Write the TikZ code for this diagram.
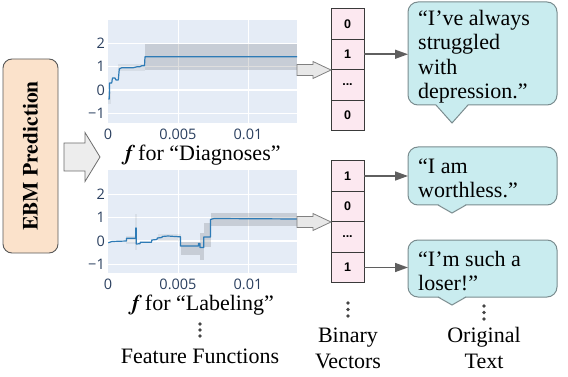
\documentclass[tikz,border=0pt]{standalone}
\usepackage{fontspec}
\setmainfont{Liberation Serif}
\newfontfamily\serifbold{texgyretermes-bold.otf}
\newfontfamily\serifbolditalic{texgyretermes-bolditalic.otf}
\newfontfamily\ticksf{Open Sans}
\newfontfamily\cellsf{Liberation Sans}
\usetikzlibrary{arrows.meta}
\definecolor{plotbg}{HTML}{E5ECF6}
\definecolor{tickc}{HTML}{2A3F5F}
\definecolor{curvec}{HTML}{2E7BB6}
\definecolor{ebmfill}{HTML}{FBE2CB}
\definecolor{ebmdraw}{HTML}{595959}
\definecolor{bubfill}{HTML}{C9ECEF}
\definecolor{bubdraw}{HTML}{7A8C8F}
\definecolor{vecfill}{HTML}{FCE8F0}
\definecolor{vecdraw}{HTML}{3A3A3A}
\definecolor{harrfill}{HTML}{E8E8E8}
\definecolor{harrdraw}{HTML}{808080}
\definecolor{darrc}{HTML}{5F5F5F}
\definecolor{dotc}{HTML}{444444}
\begin{document}
\begin{tikzpicture}[x=1pt,y=-1pt,
  gridl/.style={white, line width=0.9pt},
  zline/.style={white, line width=1.8pt},
  band/.style={fill=black, fill opacity=0.13},
  fband/.style={fill=black, fill opacity=0.06},
  curve/.style={draw=curvec, line width=1.2pt, line join=round},
  tick/.style={font=\ticksf\fontsize{14.5}{16}\selectfont, text=tickc, inner sep=0pt},
  lbl/.style={font=\fontsize{22}{26.5}\selectfont, inner sep=0pt, align=center},
  bubtext/.style={font=\fontsize{22}{24.5}\selectfont, inner sep=0pt, align=left, anchor=north west},
  bubblebox/.style={rectangle, inner sep=0pt, outer sep=0pt, anchor=north west, minimum width=149},
  bubble/.style={draw=bubdraw, fill=bubfill, line width=1pt, rounded corners=10pt},
  vcell/.style={rectangle, draw=vecdraw, fill=vecfill, line width=0.8pt, minimum width=33, minimum height=30.5, inner sep=0pt, outer sep=0pt, font=\cellsf\bfseries\fontsize{12.5}{14}\selectfont},
  hollow/.style={draw=harrdraw, fill=harrfill, line width=0.8pt, line join=miter},
  darr/.style={draw=darrc, line width=1.5pt, -{Triangle[length=13pt,width=9pt]}},
  vdot/.style={fill=dotc}]
\path[use as bounding box] (0,0) rectangle (568,377);

% EBM box
\node[rectangle, rounded corners=9pt, draw=ebmdraw, fill=ebmfill, line width=0.9pt, rotate=90,
  minimum width=194, minimum height=55, inner sep=0pt,
  font=\serifbold\fontsize{21.5}{24}\selectfont] (ebm) at (30.5,156) {EBM Prediction};

% big arrow from the EBM box to the feature functions
\coordinate (bigtail) at (64,157);
\draw[hollow, shift={(bigtail)}, fill=harrfill!80!white, draw=harrdraw!85!black]
  (0,-14) -- (21,-14) -- (21,-24.5) -- (36,0) -- (21,24.5) -- (21,14) -- (0,14) -- cycle;

% ---------- top plot ----------
\fill[plotbg] (108,20) rectangle (297,123);
\draw[gridl] (108,43) -- (297,43);
\draw[gridl] (108,66.5) -- (297,66.5);
\draw[gridl] (108,113.5) -- (297,113.5);
\draw[gridl] (178,20) -- (178,123);
\draw[gridl] (248,20) -- (248,123);
\draw[zline] (108,90) -- (297,90);
\fill[band] (145,44) rectangle (297,70);
\fill[fband] (118,64) rectangle (145,71);
\fill[fband] (108,92) rectangle (111,104);
\draw[curve] (108.3,99) -- (109.3,99) -- (109.6,83) -- (111.7,83) -- (112.5,78) -- (115,78) -- (116,80) -- (118.3,80)
  -- (119.3,69) -- (121.7,67.7) -- (133.3,67.7) -- (137.3,66.7) -- (140,66.7) -- (141.7,65.7) -- (144.5,65.7)
  -- (145,56.7) -- (297,56.7);
\node[tick, anchor=east] (ty2) at (105,43) {2};
\node[tick, anchor=east] (ty1) at (105,66.5) {1};
\node[tick, anchor=east] (ty0) at (105,90) {0};
\node[tick, anchor=east] (tym) at (105,113.5) {−1};
\node[tick] (tx0) at (108,134) {0};
\node[tick] (tx1) at (178,134) {0.005};
\node[tick] (tx2) at (248,134) {0.01};
\node[lbl, anchor=base] (cap1) at (203,160.5) {{\serifbolditalic f} for “Diagnoses”};

% ---------- bottom plot ----------
\fill[plotbg] (108,170) rectangle (297,273);
\draw[gridl] (108,194) -- (297,194);
\draw[gridl] (108,217.5) -- (297,217.5);
\draw[gridl] (108,264.5) -- (297,264.5);
\draw[gridl] (178,170) -- (178,273);
\draw[gridl] (248,170) -- (248,273);
\draw[zline] (108,241) -- (297,241);
\fill[fband] (126,236) rectangle (136,244);
\fill[fband] (135.3,214) rectangle (136.8,250);
\fill[fband] (158,233.5) rectangle (180.5,240.5);
\fill[band] (180.5,241.5) rectangle (199.5,255);
\fill[band] (199.5,233) rectangle (204,260);
\fill[band] (204,223) rectangle (210.7,247);
\fill[band] (210.7,213.3) rectangle (297,225.7);
\draw[curve] (108.3,242.7) -- (112,241.5) -- (126.5,241) -- (126.5,238.3) -- (135.8,238.3) -- (135.8,228)
  -- (136.3,228) -- (136.3,244) -- (140,243.7) -- (140.3,242.3) -- (151.5,242.3) -- (151.8,240) -- (157,239.5)
  -- (157.3,238) -- (162,237.5) -- (162.3,236.5) -- (168,236) -- (175,236.5) -- (180.5,236.8) -- (180.5,246)
  -- (198.5,246) -- (198.5,243.5) -- (200,243.5) -- (200,247.5) -- (203.8,247.5) -- (203.8,237) -- (210.5,237)
  -- (210.5,219.5) -- (214,218.5) -- (297,219);
\node[tick, anchor=east] (by2) at (105,194) {2};
\node[tick, anchor=east] (by1) at (105,217.5) {1};
\node[tick, anchor=east] (by0) at (105,241) {0};
\node[tick, anchor=east] (bym) at (105,264.5) {−1};
\node[tick] (bx0) at (108,284.5) {0};
\node[tick] (bx1) at (178,284.5) {0.005};
\node[tick] (bx2) at (248,284.5) {0.01};
\node[lbl, anchor=base] (cap2) at (203,310) {{\serifbolditalic f} for “Labeling”};
\fill[vdot] (200,324) circle (1.9);
\fill[vdot] (200,330) circle (1.9);
\fill[vdot] (200,336) circle (1.9);
\node[lbl, anchor=base] (ff) at (200,363) {Feature Functions};

% ---------- vectors ----------
\node[vcell] (v1a) at (347.5,23.75) {0};
\node[vcell] (v1b) at (347.5,54.25) {1};
\node[vcell] (v1c) at (347.5,84.75) {...};
\node[vcell] (v1d) at (347.5,115.25) {0};
\node[vcell] (v2a) at (347.5,176) {1};
\node[vcell] (v2b) at (347.5,206.5) {0};
\node[vcell] (v2c) at (347.5,237) {...};
\node[vcell] (v2d) at (347.5,267.5) {1};

% ---------- hollow arrows from plots to vectors ----------
\coordinate (h1tail) at (297,70);
\coordinate (h2tail) at (297,222);
\draw[hollow, shift={(h1tail)}] (0,-5.5) -- (16,-5.5) -- (16,-8.5) -- (34,0) -- (16,8.5) -- (16,5.5) -- (0,5.5) -- cycle;
\draw[hollow, shift={(h2tail)}] (0,-5.5) -- (16,-5.5) -- (16,-8.5) -- (34,0) -- (16,8.5) -- (16,5.5) -- (0,5.5) -- cycle;

\fill[vdot] (348,303) circle (1.9);
\fill[vdot] (348,309.5) circle (1.9);
\fill[vdot] (348,316) circle (1.9);
\node[lbl, anchor=north] (bv) at (348,326) {\rule{0pt}{16pt}Binary\\Vectors};

% ---------- bubbles ----------
\node[bubblebox, minimum height=103] (b1) at (408,2) {};
\draw[bubble] (b1.south west) rectangle (b1.north east);
\fill[bubfill] (436,104) -- (452,123) -- (468,104) -- cycle;
\draw[draw=bubdraw, line width=1pt, line join=miter] (436,105) -- (452,123) -- (468,105);
\node[bubtext] (t1) at (418,9) {\rule{0pt}{16pt}“I’ve always\\struggled\\with\\depression.”};

\node[bubblebox, minimum height=58] (b2) at (408,147) {};
\draw[bubble] (b2.south west) rectangle (b2.north east);
\fill[bubfill] (438,204) -- (452,213) -- (466,204) -- cycle;
\draw[draw=bubdraw, line width=1pt] (438,205) -- (452,213) -- (466,205);
\node[bubtext] (t2) at (418,157) {\rule{0pt}{16pt}“I am\\worthless.”};

\node[bubblebox, minimum height=57] (b3) at (408,240) {};
\draw[bubble] (b3.south west) rectangle (b3.north east);
\fill[bubfill] (438,296) -- (452,305) -- (466,296) -- cycle;
\draw[draw=bubdraw, line width=1pt] (438,297) -- (452,305) -- (466,297);
\node[bubtext] (t3) at (418,250) {\rule{0pt}{16pt}“I’m such a\\loser!”};

\fill[vdot] (484,306) circle (1.9);
\fill[vdot] (484,312.5) circle (1.9);
\fill[vdot] (484,319) circle (1.9);
\node[lbl, anchor=north] (ot) at (484,326) {\rule{0pt}{16pt}Original\\Text};

% ---------- dark arrows ----------
\draw[darr] (v1b.east) -- (v1b.east -| b1.west);
\draw[darr] (v2a.east) -- (v2a.east -| b2.west);
\draw[darr] (v2d.east) -- (v2d.east -| b3.west);
\end{tikzpicture}
\end{document}
